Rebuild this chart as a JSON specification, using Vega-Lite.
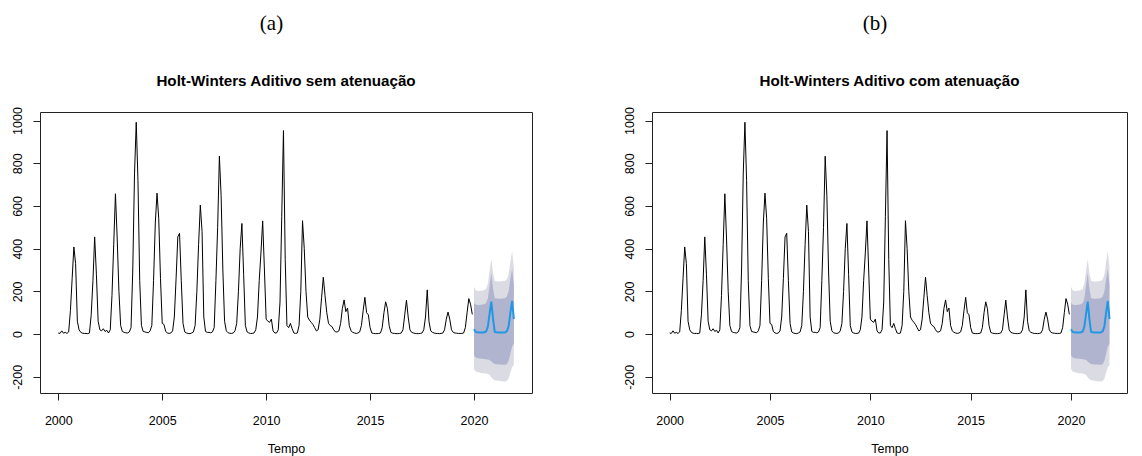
{
 "$schema": "https://vega.github.io/schema/vega-lite/v6.json",
 "background": "white",
 "padding": {"left": 10, "top": 12, "right": 5, "bottom": 5},
 "config": {
  "view": {"stroke": "#222", "strokeWidth": 1},
  "axis": {"labelFont": "Liberation Sans", "labelFontSize": 12.5, "labelColor": "#000", "tickColor": "#222", "tickSize": 7, "domain": false, "grid": false, "titleFont": "Liberation Sans", "titleFontWeight": "normal", "titleFontSize": 12.5, "titleColor": "#000"},
  "concat": {"spacing": 89}
 },
 "datasets": {
  "obs": [
   {"t":2000,"v":5},{"t":2000.083,"v":3},{"t":2000.167,"v":15},{"t":2000.25,"v":4},{"t":2000.333,"v":8},{"t":2000.417,"v":3},{"t":2000.5,"v":10},{"t":2000.583,"v":110},{"t":2000.667,"v":260},{"t":2000.75,"v":408},{"t":2000.833,"v":330},{"t":2000.917,"v":60},
   {"t":2001,"v":20},{"t":2001.083,"v":8},{"t":2001.167,"v":4},{"t":2001.25,"v":3},{"t":2001.333,"v":3},{"t":2001.417,"v":2},{"t":2001.5,"v":5},{"t":2001.583,"v":90},{"t":2001.667,"v":250},{"t":2001.75,"v":455},{"t":2001.833,"v":280},{"t":2001.917,"v":60},
   {"t":2002,"v":20},{"t":2002.083,"v":15},{"t":2002.167,"v":25},{"t":2002.25,"v":12},{"t":2002.333,"v":18},{"t":2002.417,"v":5},{"t":2002.5,"v":20},{"t":2002.583,"v":180},{"t":2002.667,"v":420},{"t":2002.75,"v":657},{"t":2002.833,"v":450},{"t":2002.917,"v":200},
   {"t":2003,"v":40},{"t":2003.083,"v":12},{"t":2003.167,"v":8},{"t":2003.25,"v":6},{"t":2003.333,"v":5},{"t":2003.417,"v":10},{"t":2003.5,"v":30},{"t":2003.583,"v":300},{"t":2003.667,"v":750},{"t":2003.75,"v":992},{"t":2003.833,"v":720},{"t":2003.917,"v":250},
   {"t":2004,"v":40},{"t":2004.083,"v":12},{"t":2004.167,"v":10},{"t":2004.25,"v":8},{"t":2004.333,"v":6},{"t":2004.417,"v":15},{"t":2004.5,"v":40},{"t":2004.583,"v":250},{"t":2004.667,"v":520},{"t":2004.75,"v":660},{"t":2004.833,"v":540},{"t":2004.917,"v":260},
   {"t":2005,"v":50},{"t":2005.083,"v":45},{"t":2005.167,"v":12},{"t":2005.25,"v":5},{"t":2005.333,"v":3},{"t":2005.417,"v":5},{"t":2005.5,"v":15},{"t":2005.583,"v":80},{"t":2005.667,"v":260},{"t":2005.75,"v":455},{"t":2005.833,"v":472},{"t":2005.917,"v":250},
   {"t":2006,"v":50},{"t":2006.083,"v":10},{"t":2006.167,"v":5},{"t":2006.25,"v":3},{"t":2006.333,"v":2},{"t":2006.417,"v":5},{"t":2006.5,"v":10},{"t":2006.583,"v":40},{"t":2006.667,"v":200},{"t":2006.75,"v":420},{"t":2006.833,"v":604},{"t":2006.917,"v":480},
   {"t":2007,"v":80},{"t":2007.083,"v":12},{"t":2007.167,"v":8},{"t":2007.25,"v":8},{"t":2007.333,"v":6},{"t":2007.417,"v":10},{"t":2007.5,"v":30},{"t":2007.583,"v":250},{"t":2007.667,"v":500},{"t":2007.75,"v":833},{"t":2007.833,"v":650},{"t":2007.917,"v":300},
   {"t":2008,"v":60},{"t":2008.083,"v":15},{"t":2008.167,"v":6},{"t":2008.25,"v":4},{"t":2008.333,"v":3},{"t":2008.417,"v":5},{"t":2008.5,"v":15},{"t":2008.583,"v":50},{"t":2008.667,"v":200},{"t":2008.75,"v":400},{"t":2008.833,"v":518},{"t":2008.917,"v":280},
   {"t":2009,"v":40},{"t":2009.083,"v":10},{"t":2009.167,"v":5},{"t":2009.25,"v":3},{"t":2009.333,"v":3},{"t":2009.417,"v":5},{"t":2009.5,"v":20},{"t":2009.583,"v":80},{"t":2009.667,"v":250},{"t":2009.75,"v":380},{"t":2009.833,"v":530},{"t":2009.917,"v":300},
   {"t":2010,"v":70},{"t":2010.083,"v":60},{"t":2010.167,"v":55},{"t":2010.25,"v":70},{"t":2010.333,"v":15},{"t":2010.417,"v":5},{"t":2010.5,"v":5},{"t":2010.583,"v":20},{"t":2010.667,"v":150},{"t":2010.75,"v":550},{"t":2010.833,"v":953},{"t":2010.917,"v":350},
   {"t":2011,"v":40},{"t":2011.083,"v":30},{"t":2011.167,"v":50},{"t":2011.25,"v":25},{"t":2011.333,"v":5},{"t":2011.417,"v":3},{"t":2011.5,"v":5},{"t":2011.583,"v":40},{"t":2011.667,"v":200},{"t":2011.75,"v":531},{"t":2011.833,"v":400},{"t":2011.917,"v":200},
   {"t":2012,"v":80},{"t":2012.083,"v":65},{"t":2012.167,"v":55},{"t":2012.25,"v":45},{"t":2012.333,"v":30},{"t":2012.417,"v":15},{"t":2012.5,"v":20},{"t":2012.583,"v":70},{"t":2012.667,"v":170},{"t":2012.75,"v":266},{"t":2012.833,"v":180},{"t":2012.917,"v":100},
   {"t":2013,"v":50},{"t":2013.083,"v":40},{"t":2013.167,"v":35},{"t":2013.25,"v":20},{"t":2013.333,"v":10},{"t":2013.417,"v":10},{"t":2013.5,"v":15},{"t":2013.583,"v":50},{"t":2013.667,"v":120},{"t":2013.75,"v":160},{"t":2013.833,"v":105},{"t":2013.917,"v":122},
   {"t":2014,"v":40},{"t":2014.083,"v":15},{"t":2014.167,"v":8},{"t":2014.25,"v":5},{"t":2014.333,"v":3},{"t":2014.417,"v":5},{"t":2014.5,"v":10},{"t":2014.583,"v":40},{"t":2014.667,"v":110},{"t":2014.75,"v":172},{"t":2014.833,"v":100},{"t":2014.917,"v":90},
   {"t":2015,"v":30},{"t":2015.083,"v":5},{"t":2015.167,"v":3},{"t":2015.25,"v":2},{"t":2015.333,"v":2},{"t":2015.417,"v":3},{"t":2015.5,"v":5},{"t":2015.583,"v":30},{"t":2015.667,"v":100},{"t":2015.75,"v":151},{"t":2015.833,"v":120},{"t":2015.917,"v":40},
   {"t":2016,"v":8},{"t":2016.083,"v":4},{"t":2016.167,"v":3},{"t":2016.25,"v":2},{"t":2016.333,"v":2},{"t":2016.417,"v":3},{"t":2016.5,"v":5},{"t":2016.583,"v":20},{"t":2016.667,"v":90},{"t":2016.75,"v":159},{"t":2016.833,"v":80},{"t":2016.917,"v":20},
   {"t":2017,"v":8},{"t":2017.083,"v":5},{"t":2017.167,"v":3},{"t":2017.25,"v":2},{"t":2017.333,"v":2},{"t":2017.417,"v":3},{"t":2017.5,"v":5},{"t":2017.583,"v":20},{"t":2017.667,"v":80},{"t":2017.75,"v":207},{"t":2017.833,"v":60},{"t":2017.917,"v":15},
   {"t":2018,"v":8},{"t":2018.083,"v":5},{"t":2018.167,"v":3},{"t":2018.25,"v":3},{"t":2018.333,"v":2},{"t":2018.417,"v":3},{"t":2018.5,"v":5},{"t":2018.583,"v":20},{"t":2018.667,"v":70},{"t":2018.75,"v":103},{"t":2018.833,"v":70},{"t":2018.917,"v":20},
   {"t":2019,"v":8},{"t":2019.083,"v":5},{"t":2019.167,"v":4},{"t":2019.25,"v":3},{"t":2019.333,"v":3},{"t":2019.417,"v":3},{"t":2019.5,"v":5},{"t":2019.583,"v":30},{"t":2019.667,"v":100},{"t":2019.75,"v":166},{"t":2019.833,"v":140},{"t":2019.917,"v":92}
  ],
  "fc": [
   {"t":2020,"f":23,"lo80":-99,"hi80":145,"lo95":-164,"hi95":222},
   {"t":2020.083,"f":10,"lo80":-110,"hi80":138,"lo95":-175,"hi95":205},
   {"t":2020.167,"f":8,"lo80":-112,"hi80":136,"lo95":-178,"hi95":202},
   {"t":2020.25,"f":7,"lo80":-114,"hi80":136,"lo95":-180,"hi95":202},
   {"t":2020.333,"f":7,"lo80":-115,"hi80":137,"lo95":-182,"hi95":203},
   {"t":2020.417,"f":7,"lo80":-116,"hi80":138,"lo95":-183,"hi95":204},
   {"t":2020.5,"f":8,"lo80":-117,"hi80":140,"lo95":-184,"hi95":206},
   {"t":2020.583,"f":12,"lo80":-118,"hi80":145,"lo95":-185,"hi95":212},
   {"t":2020.667,"f":35,"lo80":-119,"hi80":168,"lo95":-187,"hi95":236},
   {"t":2020.75,"f":95,"lo80":-122,"hi80":228,"lo95":-192,"hi95":297},
   {"t":2020.833,"f":152,"lo80":-128,"hi80":286,"lo95":-202,"hi95":352},
   {"t":2020.917,"f":70,"lo80":-136,"hi80":212,"lo95":-212,"hi95":285},
   {"t":2021,"f":10,"lo80":-140,"hi80":168,"lo95":-216,"hi95":250},
   {"t":2021.083,"f":8,"lo80":-141,"hi80":166,"lo95":-218,"hi95":247},
   {"t":2021.167,"f":7,"lo80":-142,"hi80":165,"lo95":-219,"hi95":246},
   {"t":2021.25,"f":7,"lo80":-143,"hi80":165,"lo95":-220,"hi95":246},
   {"t":2021.333,"f":7,"lo80":-143,"hi80":166,"lo95":-221,"hi95":247},
   {"t":2021.417,"f":7,"lo80":-144,"hi80":167,"lo95":-222,"hi95":248},
   {"t":2021.5,"f":8,"lo80":-144,"hi80":169,"lo95":-222,"hi95":250},
   {"t":2021.583,"f":14,"lo80":-140,"hi80":176,"lo95":-219,"hi95":257},
   {"t":2021.667,"f":38,"lo80":-125,"hi80":200,"lo95":-208,"hi95":280},
   {"t":2021.75,"f":100,"lo80":-92,"hi80":258,"lo95":-180,"hi95":338},
   {"t":2021.833,"f":155,"lo80":-58,"hi80":305,"lo95":-155,"hi95":388},
   {"t":2021.917,"f":70,"lo80":-47,"hi80":230,"lo95":-145,"hi95":312}
  ]
 },
 "hconcat": [
  {
   "title": {"text": "(a)", "font": "Liberation Serif", "fontSize": 21, "fontWeight": "normal", "color": "#000", "offset": 40, "frame": "bounds", "anchor": "middle"},
   "hconcat": [
    {
     "width": 492, "height": 281,
     "title": {"text": "Holt-Winters Aditivo sem atenuação", "font": "Liberation Sans", "fontSize": 15.2, "fontWeight": "bold", "color": "#000", "offset": 17, "frame": "group", "anchor": "middle"},
     "encoding": {"x": {"field": "t", "type": "quantitative", "scale": {"domain": [1999.12, 2022.79], "nice": false, "zero": false}, "axis": {"values": [2000, 2005, 2010, 2015, 2020], "format": "d", "title": "Tempo", "labelPadding": 14, "titlePadding": 16}}},
     "layer": [
      {"data": {"name": "fc"}, "mark": {"type": "area", "color": "#DBDBE3", "opacity": 1}, "encoding": {"y": {"field": "lo95", "type": "quantitative", "title": null, "scale": {"domain": [-276, 1040], "nice": false, "zero": false}, "axis": {"values": [-200, 0, 200, 400, 600, 800, 1000], "labelExpr": "datum.value < 0 ? '-' + abs(datum.value) : '' + datum.value", "labelAngle": -90, "title": null, "labelPadding": 9}}, "y2": {"field": "hi95"}}},
      {"data": {"name": "fc"}, "mark": {"type": "area", "color": "#B0B4CF", "opacity": 1}, "encoding": {"y": {"field": "lo80", "type": "quantitative", "title": null}, "y2": {"field": "hi80"}}},
      {"data": {"name": "obs"}, "mark": {"type": "line", "color": "#000", "strokeWidth": 1}, "encoding": {"y": {"field": "v", "type": "quantitative", "title": null}}},
      {"data": {"name": "fc"}, "mark": {"type": "line", "color": "#2297E6", "strokeWidth": 2}, "encoding": {"y": {"field": "f", "type": "quantitative", "title": null}}}
     ]
    }
   ]
  },
  {
   "title": {"text": "(b)", "font": "Liberation Serif", "fontSize": 21, "fontWeight": "normal", "color": "#000", "offset": 40, "frame": "bounds", "anchor": "middle"},
   "hconcat": [
    {
     "width": 475, "height": 281,
     "title": {"text": "Holt-Winters Aditivo com atenuação", "font": "Liberation Sans", "fontSize": 15.2, "fontWeight": "bold", "color": "#000", "offset": 17, "frame": "group", "anchor": "middle"},
     "encoding": {"x": {"field": "t", "type": "quantitative", "scale": {"domain": [1999.12, 2022.79], "nice": false, "zero": false}, "axis": {"values": [2000, 2005, 2010, 2015, 2020], "format": "d", "title": "Tempo", "labelPadding": 14, "titlePadding": 16}}},
     "layer": [
      {"data": {"name": "fc"}, "mark": {"type": "area", "color": "#DBDBE3", "opacity": 1}, "encoding": {"y": {"field": "lo95", "type": "quantitative", "title": null, "scale": {"domain": [-276, 1040], "nice": false, "zero": false}, "axis": {"values": [-200, 0, 200, 400, 600, 800, 1000], "labelExpr": "datum.value < 0 ? '-' + abs(datum.value) : '' + datum.value", "labelAngle": -90, "title": null, "labelPadding": 9}}, "y2": {"field": "hi95"}}},
      {"data": {"name": "fc"}, "mark": {"type": "area", "color": "#B0B4CF", "opacity": 1}, "encoding": {"y": {"field": "lo80", "type": "quantitative", "title": null}, "y2": {"field": "hi80"}}},
      {"data": {"name": "obs"}, "mark": {"type": "line", "color": "#000", "strokeWidth": 1}, "encoding": {"y": {"field": "v", "type": "quantitative", "title": null}}},
      {"data": {"name": "fc"}, "mark": {"type": "line", "color": "#2297E6", "strokeWidth": 2}, "encoding": {"y": {"field": "f", "type": "quantitative", "title": null}}}
     ]
    }
   ]
  }
 ]
}
